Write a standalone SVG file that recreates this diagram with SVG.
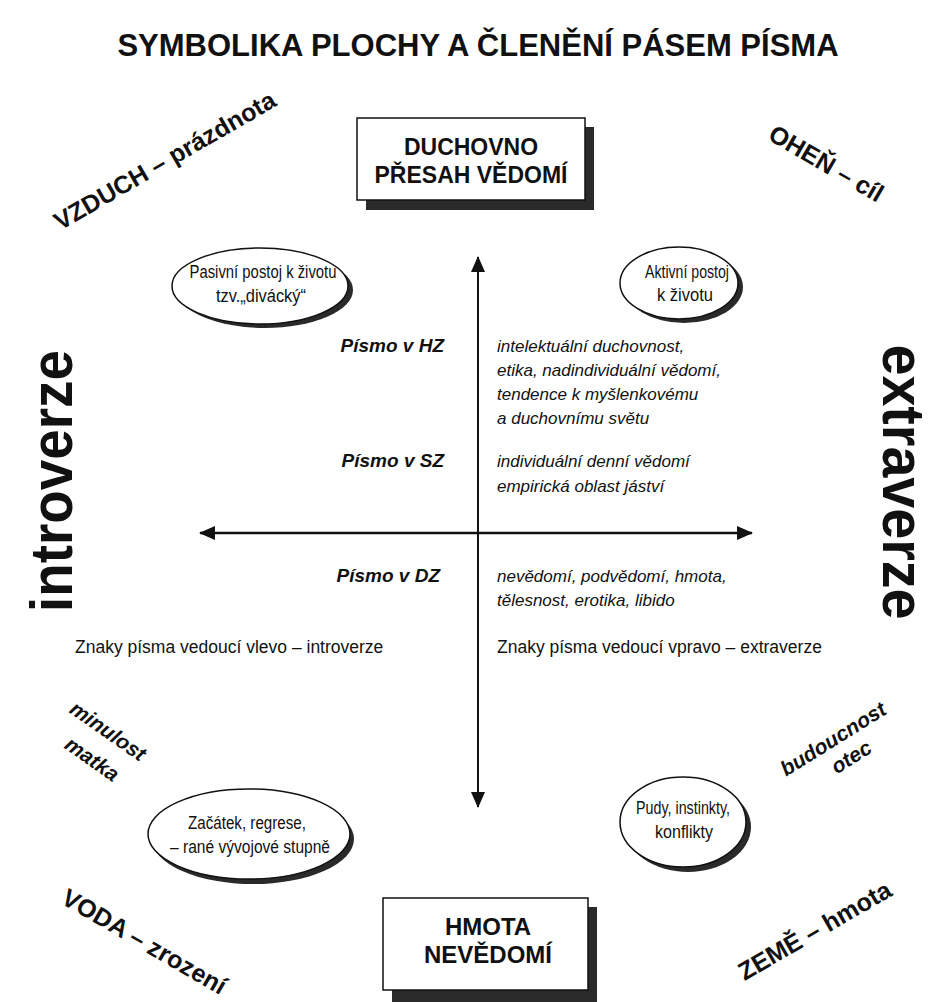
<svg xmlns="http://www.w3.org/2000/svg" width="949" height="1002" viewBox="0 0 949 1002">
<style>
text{font-family:"Liberation Sans",Arial,Helvetica,sans-serif;fill:#111}
.title{font-size:31px;font-weight:bold}
.box{fill:#fff;stroke:#111;stroke-width:1.5}
.shadow{fill:#2a2a2a}
.boxt{font-size:23px;font-weight:bold;text-anchor:middle}
.corner{font-size:25px;font-weight:bold;text-anchor:middle}
.time{font-size:21px;font-weight:bold;font-style:italic;text-anchor:middle}
.ell{fill:#fff;stroke:#111;stroke-width:1.5}
.ellt{font-size:17.5px;text-anchor:middle}
.zone{font-size:19px;font-weight:bold;font-style:italic;text-anchor:end}
.desc{font-size:17px;font-style:italic}
.znak{font-size:17.5px}
.big{font-size:60px;font-weight:bold;text-anchor:middle}
.axis{stroke:#111;fill:none}
</style>
<defs>
<marker id="ah" viewBox="0 0 16 14" refX="15" refY="7" markerWidth="16" markerHeight="14" markerUnits="userSpaceOnUse" orient="auto-start-reverse">
<path d="M0,0 L16,7 L0,14 Z" fill="#111"/>
</marker>
</defs>
<rect width="949" height="1002" fill="#fff"/>
<text class="title" x="478" y="56" text-anchor="middle">SYMBOLIKA PLOCHY A ČLENĚNÍ PÁSEM PÍSMA</text>

<g id="connectors">
<line class="axis" x1="478" y1="807" x2="478" y2="257" stroke-width="2" marker-start="url(#ah)" marker-end="url(#ah)"/>
<line class="axis" x1="200" y1="533" x2="752" y2="533" stroke-width="2.5" marker-start="url(#ah)" marker-end="url(#ah)"/>
</g>

<g id="box-top">
<rect class="shadow" x="366" y="127" width="228" height="83"/>
<rect class="box" x="357" y="118" width="228" height="82"/>
<text class="boxt" x="471" y="155">DUCHOVNO</text>
<text class="boxt" x="471" y="183">PŘESAH VĚDOMÍ</text>
</g>

<g id="box-bottom">
<rect class="shadow" x="392" y="907" width="205" height="95"/>
<rect class="box" x="383" y="898" width="205" height="92"/>
<text class="boxt" x="488" y="935" style="font-size:24px">HMOTA</text>
<text class="boxt" x="488" y="963" style="font-size:24px">NEVĚDOMÍ</text>
</g>

<g id="vzduch"><text class="corner" x="169" y="168" transform="rotate(-30 169 168)">VZDUCH – prázdnota</text></g>
<g id="ohen"><text class="corner" x="822" y="171" transform="rotate(30 822 171)">OHEŇ – cíl</text></g>
<g id="voda"><text class="corner" x="140" y="949" transform="rotate(30 140 949)">VODA – zrození</text></g>
<g id="zeme"><text class="corner" x="819" y="938" transform="rotate(-30 819 938)">ZEMĚ – hmota</text></g>

<g id="minulost">
<text class="time" x="104" y="737" transform="rotate(35 104 737)">minulost</text>
<text class="time" x="88" y="765" transform="rotate(35 88 765)">matka</text>
</g>
<g id="budoucnost">
<text class="time" x="837" y="745" transform="rotate(-32 837 745)">budoucnost</text>
<text class="time" x="855" y="763" transform="rotate(-32 855 763)">otec</text>
</g>

<g id="ell-pasivni">
<ellipse class="shadow" cx="265" cy="290" rx="88" ry="38"/>
<ellipse class="ell" cx="260" cy="286" rx="88" ry="38"/>
<text class="ellt" x="263" y="278" textLength="147" lengthAdjust="spacingAndGlyphs">Pasivní postoj k životu</text>
<text class="ellt" x="261" y="302" textLength="90" lengthAdjust="spacingAndGlyphs">tzv.„divácký“</text>
</g>
<g id="ell-aktivni">
<ellipse class="shadow" cx="684" cy="287" rx="59" ry="36"/>
<ellipse class="ell" cx="679" cy="283" rx="59" ry="36"/>
<text class="ellt" x="687" y="278" textLength="84" lengthAdjust="spacingAndGlyphs">Aktivní postoj</text>
<text class="ellt" x="685" y="301" textLength="56" lengthAdjust="spacingAndGlyphs">k životu</text>
</g>
<g id="ell-zacatek">
<ellipse class="shadow" cx="253" cy="839" rx="101" ry="45"/>
<ellipse class="ell" cx="249" cy="834" rx="101" ry="45"/>
<text class="ellt" x="247" y="829" textLength="118" lengthAdjust="spacingAndGlyphs">Začátek, regrese,</text>
<text class="ellt" x="250" y="853" textLength="160" lengthAdjust="spacingAndGlyphs">– rané vývojové stupně</text>
</g>
<g id="ell-pudy">
<ellipse class="shadow" cx="688" cy="827" rx="63" ry="45"/>
<ellipse class="ell" cx="683" cy="822" rx="63" ry="45"/>
<text class="ellt" x="683" y="814" textLength="94" lengthAdjust="spacingAndGlyphs">Pudy, instinkty,</text>
<text class="ellt" x="684" y="838" textLength="58" lengthAdjust="spacingAndGlyphs">konflikty</text>
</g>

<g id="zone-hz">
<text class="zone" x="444" y="352">Písmo v HZ</text>
<text class="desc" x="497" y="352">intelektuální duchovnost,</text>
<text class="desc" x="497" y="376">etika, nadindividuální vědomí,</text>
<text class="desc" x="497" y="400">tendence k myšlenkovému</text>
<text class="desc" x="497" y="424">a duchovnímu světu</text>
</g>
<g id="zone-sz">
<text class="zone" x="444" y="467">Písmo v SZ</text>
<text class="desc" x="497" y="467">individuální denní vědomí</text>
<text class="desc" x="497" y="492">empirická oblast jáství</text>
</g>
<g id="zone-dz">
<text class="zone" x="440" y="582">Písmo v DZ</text>
<text class="desc" x="497" y="582">nevědomí, podvědomí, hmota,</text>
<text class="desc" x="497" y="606">tělesnost, erotika, libido</text>
</g>

<g id="znaky">
<text class="znak" x="75" y="653">Znaky písma vedoucí vlevo – introverze</text>
<text class="znak" x="497" y="653">Znaky písma vedoucí vpravo – extraverze</text>
</g>

<g id="introverze"><text class="big" x="72" y="481" transform="rotate(-90 72 481)" textLength="262" lengthAdjust="spacingAndGlyphs">introverze</text></g>
<g id="extraverze"><text class="big" x="883" y="482" transform="rotate(90 883 482)" textLength="275" lengthAdjust="spacingAndGlyphs">extraverze</text></g>
</svg>
